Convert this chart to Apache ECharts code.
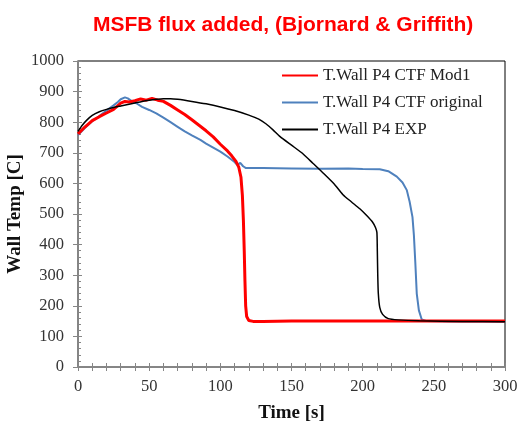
<!DOCTYPE html>
<html>
<head>
<meta charset="utf-8">
<script src="https://cdn.jsdelivr.net/npm/echarts@6/dist/echarts.min.js"></script>
<style>html,body{margin:0;padding:0;background:#fff}#c{width:517px;height:425px}</style>
</head>
<body>
<div id="c"></div>
<script>
const titleText = 'MSFB flux added, (Bjornard & Griffith)';
const seriesNames = ['T.Wall P4 CTF Mod1', 'T.Wall P4 CTF original', 'T.Wall P4 EXP'];
const xTicks = [0, 50, 100, 150, 200, 250, 300];
const yTicks = [0, 100, 200, 300, 400, 500, 600, 700, 800, 900, 1000];

const mod1 = [[0,762],[5,785],[10,805],[15,818],[20,830],[25,842],[30,862],[33,868],[36,866],[40,870],[44,876],[48,872],[52,878],[56,872],[60,868],[65,855],[70,840],[75,825],[80,808],[85,790],[90,772],[95,752],[100,728],[105,706],[108,690],[111,672],[113,652],[114.5,620],[115.5,560],[116.2,480],[116.8,380],[117.3,280],[117.8,200],[118.5,165],[120,152],[123,149],[130,149],[150,150],[200,150],[250,150],[300,150]];
const original = [[0,758],[5,782],[10,803],[15,820],[20,838],[25,855],[28,866],[30,875],[33,881],[35,878],[38,868],[41,862],[45,850],[50,840],[55,829],[60,815],[65,800],[70,785],[75,770],[80,757],[86,742],[90,730],[95,717],[100,704],[105,688],[110,670],[112,660],[114,667],[116,656],[118,650],[130,650],[150,649],[170,648],[190,649],[200,647],[212,646],[218,640],[224,622],[228,603],[231,578],[233,540],[235,490],[236,430],[237,340],[238,240],[239.5,185],[241.5,155],[245,150],[260,149],[300,148]];
const exp = [[0,770],[3,790],[6,806],[10,822],[15,834],[20,842],[25,848],[30,853],[35,858],[40,863],[45,868],[50,872],[55,875],[60,877],[65,877],[70,875],[80,868],[90,860],[100,850],[110,838],[120,823],[127,810],[132,795],[137,775],[142,753],[150,725],[158,697],[165,666],[172,635],[180,598],[186,564],[192,540],[198,517],[203,494],[207,473],[209,456],[210,440],[210.3,380],[210.6,300],[211,240],[212,195],[214,172],[218,158],[225,154],[240,151],[270,149],[300,148]];

const serif = 'Liberation Serif';
const axisGray = '#868686';
const chart = echarts.init(document.getElementById('c'), null, {renderer: 'canvas'});
const xBase = {type: 'value', min: xTicks[0], max: xTicks[xTicks.length-1], interval: 50, splitLine: {show: false}};
const yBase = {type: 'value', min: yTicks[0], max: yTicks[yTicks.length-1], interval: 100, splitLine: {show: false}};
chart.setOption({
  animation: false,
  title: {text: titleText, left: 88, top: 10, textStyle: {color: '#ff0000', fontFamily: 'Liberation Sans', fontWeight: 'bold', fontSize: 21}},
  grid: {left: 78, right: 12, top: 61, bottom: 58, outerBoundsMode: 'none', containLabel: false,
    show: true, borderColor: '#000', borderWidth: 1, backgroundColor: 'transparent'},
  legend: {orient: 'vertical', left: 276, top: 62, itemWidth: 36, itemHeight: 14, itemGap: 10,
    itemStyle: {opacity: 0},
    textStyle: {fontFamily: serif, fontSize: 17, color: '#222'}, data: seriesNames},
  xAxis: [
    Object.assign({}, xBase, {position: 'bottom', name: 'Time [s]', nameLocation: 'middle', nameGap: 37,
      nameTextStyle: {fontFamily: serif, fontWeight: 'bold', fontSize: 19, color: '#111'},
      axisLine: {lineStyle: {color: axisGray, width: 1.5}},
      axisTick: {inside: false, length: 4, lineStyle: {color: axisGray}},
      minorTick: {show: true, splitNumber: 5, length: 4, lineStyle: {color: axisGray}},
      axisLabel: {margin: 11, fontFamily: serif, fontSize: 16.5, color: '#333'}}),
    Object.assign({}, xBase, {position: 'bottom', gridIndex: 0,
      axisLine: {lineStyle: {color: axisGray, width: 1.5}},
      axisTick: {inside: true, length: 4, lineStyle: {color: axisGray}},
      minorTick: {show: true, splitNumber: 5, length: 4, lineStyle: {color: axisGray}},
      axisLabel: {show: false}})
  ],
  yAxis: [
    Object.assign({}, yBase, {position: 'left', name: 'Wall Temp [C]', nameLocation: 'middle', nameGap: 53, nameMoveOverlap: false,
      nameTextStyle: {fontFamily: serif, fontWeight: 'bold', fontSize: 19, color: '#111'},
      axisLine: {lineStyle: {color: axisGray, width: 1.5}},
      axisTick: {inside: false, length: 5, lineStyle: {color: axisGray}},
      axisLabel: {margin: 14, fontFamily: serif, fontSize: 16.5, color: '#333', formatter: v => String(v)}}),
    Object.assign({}, yBase, {position: 'left', gridIndex: 0,
      axisLine: {lineStyle: {color: axisGray, width: 1.5}},
      axisTick: {inside: true, length: 4, lineStyle: {color: axisGray}},
      minorTick: {show: true, splitNumber: 5, length: 3, lineStyle: {color: axisGray}},
      axisLabel: {show: false}})
  ],
  series: [
    {name: seriesNames[0], type: 'line', data: mod1, symbol: 'none', z: 4, lineStyle: {color: '#ff0000', width: 3}, itemStyle: {color: '#ff0000'}},
    {name: seriesNames[1], type: 'line', data: original, symbol: 'none', z: 3, lineStyle: {color: '#4f81bd', width: 2}, itemStyle: {color: '#4f81bd'}},
    {name: seriesNames[2], type: 'line', data: exp, symbol: 'none', smooth: 0.2, z: 5, lineStyle: {color: '#000', width: 1.5}, itemStyle: {color: '#000'}}
  ]
});
</script>
</body>
</html>
